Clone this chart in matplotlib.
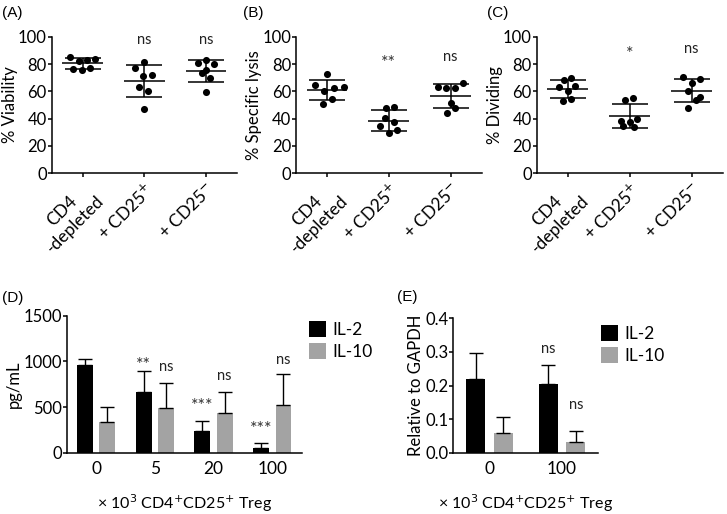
import matplotlib
matplotlib.use("Agg")
import matplotlib.pyplot as plt
import numpy as np

plt.rcParams['font.family'] = ['Lato', 'DejaVu Sans']
plt.rcParams['axes.linewidth'] = 1.1
plt.rcParams['xtick.major.width'] = 1.1
plt.rcParams['ytick.major.width'] = 1.1
plt.rcParams['xtick.major.size'] = 3
plt.rcParams['ytick.major.size'] = 3

# ---- scatter panels (A-C) ----
groups = ['CD4\n-depleted', '+ CD25$^{+}$', '+ CD25$^{-}$']

viab_pts = [[85.4, 82.4, 82.9, 83.4, 76.6, 75.6, 76.8],
            [77.3, 81.3, 71.4, 72.0, 63.4, 60.2, 47.1],
            [81.0, 82.9, 80.0, 73.2, 75.6, 69.5, 59.7]]
viab_jit = [[-0.21, -0.065, 0.08, 0.205, -0.155, -0.01, 0.125],
            [-0.15, 0.0, -0.016, 0.13, -0.08, 0.065, 0.0],
            [-0.125, 0.01, 0.135, -0.07, 0.01, 0.065, 0.0]]
viab_marks = ['', 'ns', 'ns']

lysis_pts = [[72.5, 64.6, 60.5, 62.7, 63.0, 50.5, 54.2],
             [47.6, 48.8, 40.3, 37.8, 34.6, 31.7, 29.3],
             [63.4, 62.2, 62.2, 65.9, 51.2, 47.6, 43.9]]
lysis_jit = [[0.0, -0.19, -0.055, 0.12, 0.27, -0.065, 0.08],
             [-0.05, 0.085, -0.065, 0.08, -0.135, 0.135, 0.005],
             [-0.2, -0.07, 0.065, 0.2, 0.01, 0.075, -0.06]]
lysis_marks = ['', '**', 'ns']

div_pts = [[68.3, 70.0, 63.0, 63.9, 60.2, 53.1, 54.4],
           [53.7, 55.3, 38.5, 37.8, 39.5, 34.6, 33.9],
           [70.7, 69.0, 65.9, 60.5, 55.6, 53.7, 47.6]]
div_jit = [[-0.065, 0.055, -0.135, 0.125, 0.0, -0.08, 0.055],
           [-0.08, 0.055, -0.14, 0.0, 0.125, -0.11, 0.075],
           [-0.135, 0.135, 0.0, -0.065, 0.14, 0.07, -0.065]]
div_marks = ['', '*', 'ns']

# ---- bar panels (D, E) ----
doses_d = ['0', '5', '20', '100']
il2_pg = [960, 668, 237, 51]
il2_pg_sd = [62, 230, 113, 51]
il10_pg = [340, 485, 430, 518]
il10_pg_sd = [156, 274, 238, 343]
il2_pg_marks = ['', '**', '***', '***']
il2_pg_mark_y = [0, 960, 510, 255]
il10_pg_marks = ['', 'ns', 'ns', 'ns']
il10_pg_mark_y = [0, 940, 840, 1015]

doses_e = ['0', '100']
il2_rel = [0.218, 0.204]
il2_rel_sd = [0.078, 0.056]
il10_rel = [0.060, 0.032]
il10_rel_sd = [0.045, 0.033]
il2_rel_marks = ['', 'ns']
il2_rel_mark_y = [0, 0.31]
il10_rel_marks = ['', 'ns']
il10_rel_mark_y = [0, 0.142]

W, H = 727, 514
fig = plt.figure(figsize=(W / 100, H / 100), dpi=100)
FS = 12


def rect(left, top, right, bottom):
    return [left / W, 1 - bottom / H, (right - left) / W, (bottom - top) / H]


def style(ax):
    ax.spines['top'].set_visible(False)
    ax.spines['right'].set_visible(False)
    ax.tick_params(labelsize=FS, pad=1.5)
    ax.tick_params(axis='y', pad=0.5)


def mark(ax, x, y, s):
    # asterisks sit high in the glyph box, so they get a bigger size
    if '*' in s:
        ax.text(x, y, s, ha='center', va='center', fontsize=13, color='#333333')
    else:
        ax.text(x, y, s, ha='center', va='center', fontsize=10.5, color='#222222')


def scatter_panel(ax, pts, jit, marks, ylabel, mark_y):
    style(ax)
    for i, (p, j) in enumerate(zip(pts, jit)):
        p = np.array(p)
        ax.scatter(i + np.array(j), p, s=26, color='black', zorder=3, linewidths=0)
        m, sd = p.mean(), p.std(ddof=1)
        ax.hlines(m, i - 0.33, i + 0.33, color='black', lw=1.1)
        ax.errorbar(i, m, yerr=sd, fmt='none', ecolor='black', elinewidth=1.1,
                    capsize=13, capthick=1.1)
        if marks[i]:
            mark(ax, i, mark_y - (4 if '*' in marks[i] else 0), marks[i])
    ax.set_xlim(-0.5, 2.5)
    ax.set_ylim(0, 100)
    ax.set_yticks([0, 20, 40, 60, 80, 100])
    ax.set_xticks(range(3))
    ax.set_xticklabels(groups, rotation=45, ha='right', va='top',
                       rotation_mode='anchor', multialignment='center',
                       fontsize=12.5)
    ax.set_ylabel(ylabel, fontsize=FS, labelpad=0)


axA = fig.add_axes(rect(51.7, 36.7, 236.7, 173.3))
scatter_panel(axA, viab_pts, viab_jit, viab_marks, '% Viability', 97.5)
axB = fig.add_axes(rect(296, 36.7, 481.7, 173.3))
scatter_panel(axB, lysis_pts, lysis_jit, lysis_marks, '% Specific lysis', 85)
axC = fig.add_axes(rect(536.7, 36.7, 722.7, 173.3))
scatter_panel(axC, div_pts, div_jit, div_marks, '% Dividing', 91)

xlab = '× 10$^{3}$ CD4$^{+}$CD25$^{+}$ Treg'
bw = 0.27
off = 0.19
ekw = dict(ecolor='black', elinewidth=1.0, capsize=5, capthick=1.0)
legkw = dict(loc='upper left', frameon=False, fontsize=12.5, handlelength=1.0,
             handleheight=1.0, handletextpad=0.35, labelspacing=0.3, borderaxespad=0)

axD = fig.add_axes(rect(66.7, 315.7, 301.7, 452.7))
style(axD)
xd = np.arange(len(doses_d))
axD.bar(xd - off, il2_pg, bw, color='black', label='IL-2',
        yerr=[np.zeros(4), il2_pg_sd], error_kw=ekw)
axD.bar(xd + off, il10_pg, bw, color='#a3a3a3', label='IL-10',
        yerr=[np.zeros(4), il10_pg_sd], error_kw=ekw)
for i in range(len(doses_d)):
    if il2_pg_marks[i]:
        mark(axD, xd[i] - off, il2_pg_mark_y[i], il2_pg_marks[i])
    if il10_pg_marks[i]:
        mark(axD, xd[i] + off, il10_pg_mark_y[i], il10_pg_marks[i])
axD.set_xlim(-0.5, 3.5)
axD.set_ylim(0, 1500)
axD.set_yticks([0, 500, 1000, 1500])
axD.set_xticks(xd)
axD.set_xticklabels(doses_d, fontsize=12.5)
axD.tick_params(axis='x', length=0, pad=6)
axD.set_ylabel('pg/mL', fontsize=FS, labelpad=1)
axD.set_xlabel(xlab, fontsize=11.5, labelpad=11)
axD.legend(bbox_to_anchor=(1.0, 1.01), **legkw)

axE = fig.add_axes(rect(453.3, 318.3, 598.3, 452.7))
style(axE)
xe = np.arange(len(doses_e))
axE.bar(xe - off, il2_rel, 0.26, color='black', label='IL-2',
        yerr=[np.zeros(2), il2_rel_sd], error_kw=ekw)
axE.bar(xe + off, il10_rel, 0.26, color='#a3a3a3', label='IL-10',
        yerr=[np.zeros(2), il10_rel_sd], error_kw=ekw)
for i in range(len(doses_e)):
    if il2_rel_marks[i]:
        mark(axE, xe[i] - off, il2_rel_mark_y[i], il2_rel_marks[i])
    if il10_rel_marks[i]:
        mark(axE, xe[i] + off, il10_rel_mark_y[i], il10_rel_marks[i])
axE.set_xlim(-0.5, 1.5)
axE.set_ylim(0, 0.4)
axE.set_yticks([0.0, 0.1, 0.2, 0.3, 0.4])
axE.set_yticklabels(['0.0', '0.1', '0.2', '0.3', '0.4'])
axE.set_xticks(xe)
axE.set_xticklabels(doses_e, fontsize=12.5)
axE.tick_params(axis='x', length=0, pad=6)
axE.set_ylabel('Relative to GAPDH', fontsize=FS, labelpad=1)
axE.set_xlabel(xlab, fontsize=11.5, labelpad=11)
axE.legend(bbox_to_anchor=(0.97, 1.0), **legkw)

for lab, x, y in [('(A)', 2, 13), ('(B)', 243, 13), ('(C)', 487, 13),
                  ('(D)', 2, 298), ('(E)', 397, 297)]:
    fig.text(x / W, 1 - y / H, lab, fontsize=11, family='Liberation Sans',
             va='center', ha='left')

fig.savefig('out.png', dpi=100)
